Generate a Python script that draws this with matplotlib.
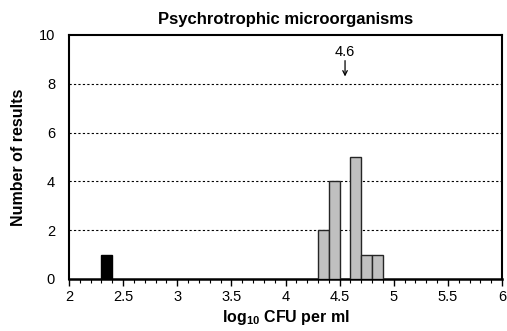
import matplotlib
matplotlib.use("Agg")
import matplotlib.pyplot as plt
from matplotlib.ticker import MultipleLocator

plt.rcParams['font.family'] = ['Liberation Sans', 'DejaVu Sans']
plt.rcParams['mathtext.default'] = 'regular'

# histogram bins (left edges, width 0.1 log units)
bin_left = [4.3, 4.4, 4.5, 4.6, 4.7, 4.8]
counts = [2, 4, 0, 5, 1, 1]
# outlier result shown in black
outlier_left = [2.3]
outlier_counts = [1]
bin_width = 0.1

median_value = 4.6
median_pos = 4.55

x_ticks = [2, 2.5, 3, 3.5, 4, 4.5, 5, 5.5, 6]
x_tick_labels = ['2', '2.5', '3', '3.5', '4', '4.5', '5', '5.5', '6']
y_ticks = [0, 2, 4, 6, 8, 10]

fig = plt.figure(figsize=(5.07, 3.31), dpi=100)
ax = fig.add_axes([69 / 507, 1 - 279 / 331, 433 / 507, 244 / 331])

ax.bar(bin_left, counts, width=bin_width, align='edge',
       color='#c0c0c0', edgecolor='#262626', linewidth=1.0, zorder=3)
ax.bar(outlier_left, outlier_counts, width=bin_width, align='edge',
       color='black', edgecolor='black', linewidth=1.0, zorder=3)

# dotted grid lines at 2..8
for y in y_ticks[1:-1]:
    ax.axhline(y, color='black', linestyle=(0, (2, 2)), linewidth=0.8, zorder=1)

# median marker
ax.text(median_pos, 9.3, f'{median_value}', ha='center', va='center', fontsize=10.5)
ax.annotate('', xy=(median_pos, 8.3), xytext=(median_pos, 8.95),
            arrowprops=dict(arrowstyle='->', lw=0.9, color='black',
                            mutation_scale=8, shrinkA=0, shrinkB=0))

ax.set_xlim(2, 6)
ax.set_ylim(0, 10)
ax.set_xticks(x_ticks)
ax.set_xticklabels(x_tick_labels)
ax.xaxis.set_minor_locator(MultipleLocator(0.1))
ax.set_yticks(y_ticks)
ax.tick_params(axis='x', which='major', direction='out', length=5, width=1.0,
               labelsize=10.5, pad=3)
ax.tick_params(axis='x', which='minor', direction='out', length=3, width=0.8)
ax.tick_params(axis='y', length=0, labelsize=10.5, pad=10)

for s in ax.spines.values():
    s.set_linewidth(1.5)
ax.spines['bottom'].set_linewidth(1.8)

ax.set_title('Psychrotrophic microorganisms', fontsize=12, fontweight='bold', pad=8)
ax.set_ylabel('Number of results', fontsize=11.5, fontweight='bold', labelpad=9)
ax.set_xlabel('log$_{10}$ CFU per ml', fontsize=11.5, fontweight='bold', labelpad=3)

fig.savefig('out.png', dpi=100)
